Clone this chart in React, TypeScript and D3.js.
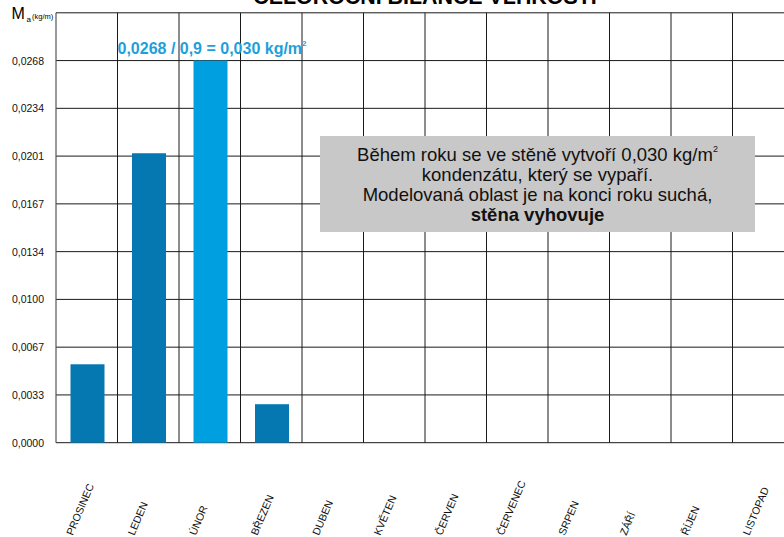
import React from "react";
import * as d3 from "d3";

const months = ["PROSINEC", "LEDEN", "ÚNOR", "BŘEZEN", "DUBEN", "KVĚTEN", "ČERVEN", "ČERVENEC", "SRPEN", "ZÁŘÍ", "ŘÍJEN", "LISTOPAD"];
const values = [0.0055, 0.0203, 0.0268, 0.0027, 0, 0, 0, 0, 0, 0, 0, 0];
const highlight = ["ÚNOR"];
const yTickValues = [0, 0.00335, 0.0067, 0.01005, 0.0134, 0.01675, 0.0201, 0.02345, 0.0268];
const yTickLabels = ["0,0000", "0,0033", "0,0067", "0,0100", "0,0134", "0,0167", "0,0201", "0,0234", "0,0268"];
const yMax = 0.03015;
const title = "CELOROČNÍ BILANCE VLHKOSTI";
const annotation = "0,0268 / 0,9 = 0,030 kg/m";
const boxLines = ["Během roku se ve stěně vytvoří 0,030 kg/m", "kondenzátu, který se vypaří.", "Modelovaná oblast je na konci roku suchá,", "stěna vyhovuje"];

const W = 784;
const H = 537;
const FONT = "'Liberation Sans', Arial, Helvetica, sans-serif";

export default function App() {
  const left = 56;
  const x = d3.scaleBand<string>().domain(months).range([left, left + 61.5 * 12]);
  const y = d3.scaleLinear().domain([0, yMax]).range([442.7, 12.8]);
  const bw = x.bandwidth();
  const barW = 34;
  const gridX = months.map((m) => x(m)! + bw);
  const boxX0 = 320, boxX1 = 755, boxY0 = 136, boxY1 = 232;
  const boxCx = (boxX0 + boxX1) / 2;

  return (
    <svg width={W} height={H} style={{ position: "absolute", left: 0, top: 0, background: "#fff" }} fontFamily={FONT}>
      {/* title (cut off at top, as in the reference) */}
      <text x={425} y={4} textAnchor="middle" fontSize={21.4} fontWeight="bold" fill="#000">{title}</text>

      {/* horizontal grid lines */}
      {[...yTickValues, yMax].map((v, i) => (
        <line key={"h" + i} x1={left} x2={W} y1={y(v)} y2={y(v)} stroke="#1a1a1a" strokeWidth={1} />
      ))}
      {/* vertical grid lines */}
      {gridX.map((gx, i) => (
        <line key={"v" + i} x1={gx} x2={gx} y1={y(yMax)} y2={y(0)} stroke="#1a1a1a" strokeWidth={1} />
      ))}
      <line x1={left} x2={left} y1={y(yMax)} y2={y(0)} stroke="#555" strokeWidth={1.2} />

      {/* bars */}
      {months.map((m, i) => (
        values[i] > 0 ? (
          <rect key={"b" + m} x={x(m)! + (bw - barW) / 2 + 0.75} width={barW} y={y(values[i])} height={y(0) - y(values[i])}
            fill={highlight.includes(m) ? "#00A0E0" : "#0578B1"} />
        ) : null
      ))}

      {/* y tick labels */}
      {yTickValues.map((v, i) => (
        <text key={"yl" + i} x={44} y={y(v) + 4} textAnchor="end" fontSize={10.5} fill="#111">{yTickLabels[i]}</text>
      ))}

      {/* y axis label */}
      <text x={11.5} y={19} fontSize={16} fill="#000">M</text>
      <text x={26.5} y={22} fontSize={8} fill="#000">a</text>
      <text x={32} y={19} fontSize={7.5} fill="#000">(kg/m)</text>

      {/* x labels */}
      {months.map((m) => {
        const cx = x(m)! + bw / 2;
        return (
          <text key={"xl" + m} transform={`translate(${cx - 14},${536}) rotate(-67)`} fontSize={10.5} fill="#111">{m}</text>
        );
      })}

      {/* annotation */}
      <text x={117.5} y={54.3} fontSize={16} fontWeight="bold" fill="#1E9FDB">
        {annotation}
        <tspan fontSize={8} dy={-8}>2</tspan>
      </text>

      {/* info box */}
      <rect x={boxX0} y={boxY0} width={boxX1 - boxX0} height={boxY1 - boxY0} fill="#C8C8C8" />
      {boxLines.map((line, i) => (
        <text key={"bx" + i} x={boxCx} y={161 + i * 20} textAnchor="middle" fontSize={18.5}
          fontWeight={i === 3 ? "bold" : "normal"} fill="#111">
          {line}
          {i === 0 ? <tspan fontSize={9} dy={-9}>2</tspan> : null}
        </text>
      ))}
    </svg>
  );
}
